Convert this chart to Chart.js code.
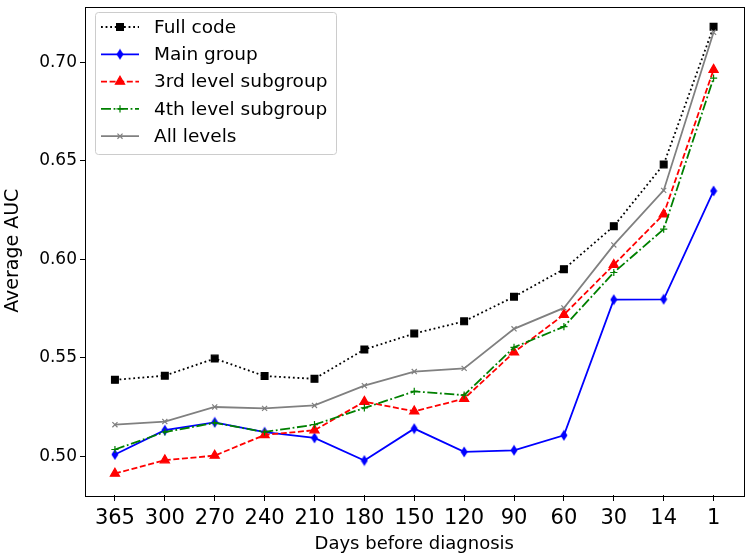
<!DOCTYPE html>
<html>
<head>
<meta charset="utf-8">
<script src="https://cdn.jsdelivr.net/npm/chart.js"></script>
<style>
  body { margin: 0; background: #fff; }
  #wrap { width: 750px; height: 558px; }
</style>
</head>
<body>
<div id="wrap"><canvas id="chart" width="750" height="558"></canvas></div>
<script>
const xLabels = ['365', '300', '270', '240', '210', '180', '150', '120', '90', '60', '30', '14', '1'];
const yTicks = [0.50, 0.55, 0.60, 0.65, 0.70];

const fullCode = [0.5388, 0.5409, 0.5496, 0.5407, 0.5393, 0.5542, 0.5623, 0.5685, 0.5810, 0.5950, 0.6168, 0.6482, 0.7181];
const mainGroup = [0.5009, 0.5132, 0.5172, 0.5122, 0.5093, 0.4978, 0.5140, 0.5022, 0.5030, 0.5106, 0.5795, 0.5797, 0.6347];
const level3 = [0.4912, 0.4980, 0.5003, 0.5108, 0.5132, 0.5277, 0.5228, 0.5292, 0.5528, 0.5719, 0.5972, 0.6229, 0.6963];
const level4 = [0.5034, 0.5123, 0.5169, 0.5123, 0.5160, 0.5245, 0.5329, 0.5310, 0.5553, 0.5658, 0.5933, 0.6153, 0.6920];
const allLevels = [0.5160, 0.5176, 0.5250, 0.5243, 0.5258, 0.5358, 0.5430, 0.5446, 0.5647, 0.5753, 0.6073, 0.6350, 0.7153];

// thin diamond marker like matplotlib 'd'
const thinDiamond = (() => {
  const c = document.createElement('canvas');
  c.width = 8; c.height = 12;
  const g = c.getContext('2d');
  g.fillStyle = '#0000ff';
  g.beginPath();
  g.moveTo(4, 0.5); g.lineTo(7.5, 6); g.lineTo(4, 11.5); g.lineTo(0.5, 6);
  g.closePath();
  g.fill();
  return c;
})();

const toPoints = (arr) => arr.map((y, i) => ({x: i, y}));

const series = [
  {label: 'Full code', data: fullCode, color: '#000000', dash: [1.8, 2.8], pointStyle: 'rect', radius: 4.8},
  {label: 'Main group', data: mainGroup, color: '#0000ff', dash: [], pointStyle: thinDiamond, radius: 5},
  {label: '3rd level subgroup', data: level3, color: '#ff0000', dash: [6, 2.6], pointStyle: 'triangle', radius: 5.3},
  {label: '4th level subgroup', data: level4, color: '#008000', dash: [10, 2.6, 1.8, 2.6], pointStyle: 'cross', radius: 3.6},
  {label: 'All levels', data: allLevels, color: '#808080', dash: [], pointStyle: 'crossRot', radius: 3.6},
];

const datasets = series.map((s, i) => ({
  label: s.label,
  data: toPoints(s.data),
  borderColor: s.color,
  backgroundColor: s.color,
  borderWidth: 1.8,
  borderDash: s.dash,
  pointStyle: s.pointStyle,
  pointRadius: s.radius,
  pointBorderWidth: 1.2,
  pointBorderColor: s.color,
  pointBackgroundColor: s.color,
  tension: 0,
  fill: false,
  order: series.length - i
}));

const framePlugin = {
  id: 'frame',
  afterDatasetsDraw(chart) {
    const {ctx, chartArea: a} = chart;
    ctx.save();
    ctx.strokeStyle = '#000';
    ctx.lineWidth = 1;
    ctx.setLineDash([]);
    ctx.strokeRect(Math.round(a.left) + 0.5, Math.round(a.top) + 0.5, Math.round(a.right - a.left), Math.round(a.bottom - a.top));
    ctx.restore();
  }
};

const legendPlugin = {
  id: 'mplLegend',
  afterDraw(chart) {
    const {ctx} = chart;
    const bx = 95, by = 12, bw = 241, bh = 142;
    ctx.save();
    ctx.fillStyle = 'rgba(255,255,255,0.8)';
    ctx.strokeStyle = '#cccccc';
    ctx.lineWidth = 1;
    ctx.beginPath();
    ctx.roundRect(bx + 0.5, by + 0.5, bw, bh, 3);
    ctx.fill();
    ctx.stroke();
    ctx.font = '18.5px "DejaVu Sans", sans-serif';
    ctx.textBaseline = 'middle';
    chart.data.datasets.forEach((ds, i) => {
      const y = 27 + i * 27.3;
      ctx.strokeStyle = ds.borderColor;
      ctx.lineWidth = ds.borderWidth;
      ctx.setLineDash(ds.borderDash);
      ctx.beginPath();
      ctx.moveTo(101, y);
      ctx.lineTo(139, y);
      ctx.stroke();
      ctx.setLineDash([]);
      ctx.fillStyle = ds.pointBackgroundColor;
      ctx.strokeStyle = ds.pointBorderColor;
      ctx.lineWidth = ds.pointBorderWidth;
      Chart.helpers.drawPoint(ctx, {pointStyle: ds.pointStyle, radius: ds.pointRadius, borderWidth: ds.pointBorderWidth, rotation: 0}, 120, y);
      ctx.fillStyle = '#000';
      ctx.fillText(ds.label, 154, y + 1);
    });
    ctx.restore();
  }
};

new Chart(document.getElementById('chart').getContext('2d'), {
  type: 'line',
  data: {datasets},
  options: {
    responsive: false,
    animation: false,
    layout: {padding: {top: 5, right: 5, left: 0, bottom: 0}},
    plugins: {
      legend: {display: false},
      tooltip: {enabled: false}
    },
    scales: {
      x: {
        type: 'linear',
        min: -0.6,
        max: 12.6,
        afterBuildTicks: (scale) => { scale.ticks = xLabels.map((_, i) => ({value: i})); },
        afterFit: (scale) => { scale.height = 63; scale.paddingLeft = 0; scale.paddingRight = 0; },
        grid: {drawOnChartArea: false, drawTicks: true, tickLength: 6, tickColor: '#000', color: '#000'},
        border: {display: false},
        ticks: {
          color: '#000',
          padding: 5,
          maxRotation: 0,
          autoSkip: false,
          font: {family: '"DejaVu Sans", sans-serif', size: 21},
          callback: (v) => xLabels[v]
        },
        title: {
          display: true,
          text: 'Days before diagnosis',
          color: '#000',
          padding: {top: 0, bottom: 3},
          font: {family: '"DejaVu Sans", sans-serif', size: 18}
        }
      },
      y: {
        type: 'linear',
        min: 0.4803,
        max: 0.7284,
        afterBuildTicks: (scale) => { scale.ticks = yTicks.map(v => ({value: v})); },
        afterFit: (scale) => { scale.width = 85; scale.paddingTop = 0; scale.paddingBottom = 0; },
        grid: {drawOnChartArea: false, drawTicks: true, tickLength: 5, tickColor: '#000', color: '#000'},
        border: {display: false},
        ticks: {
          color: '#000',
          padding: 3,
          font: {family: '"DejaVu Sans", sans-serif', size: 17},
          callback: (v) => v.toFixed(2)
        },
        title: {
          display: true,
          text: 'Average AUC',
          color: '#000',
          padding: {top: 2, bottom: 0},
          font: {family: '"DejaVu Sans", sans-serif', size: 19}
        }
      }
    }
  },
  plugins: [framePlugin, legendPlugin]
});
</script>
</body>
</html>
